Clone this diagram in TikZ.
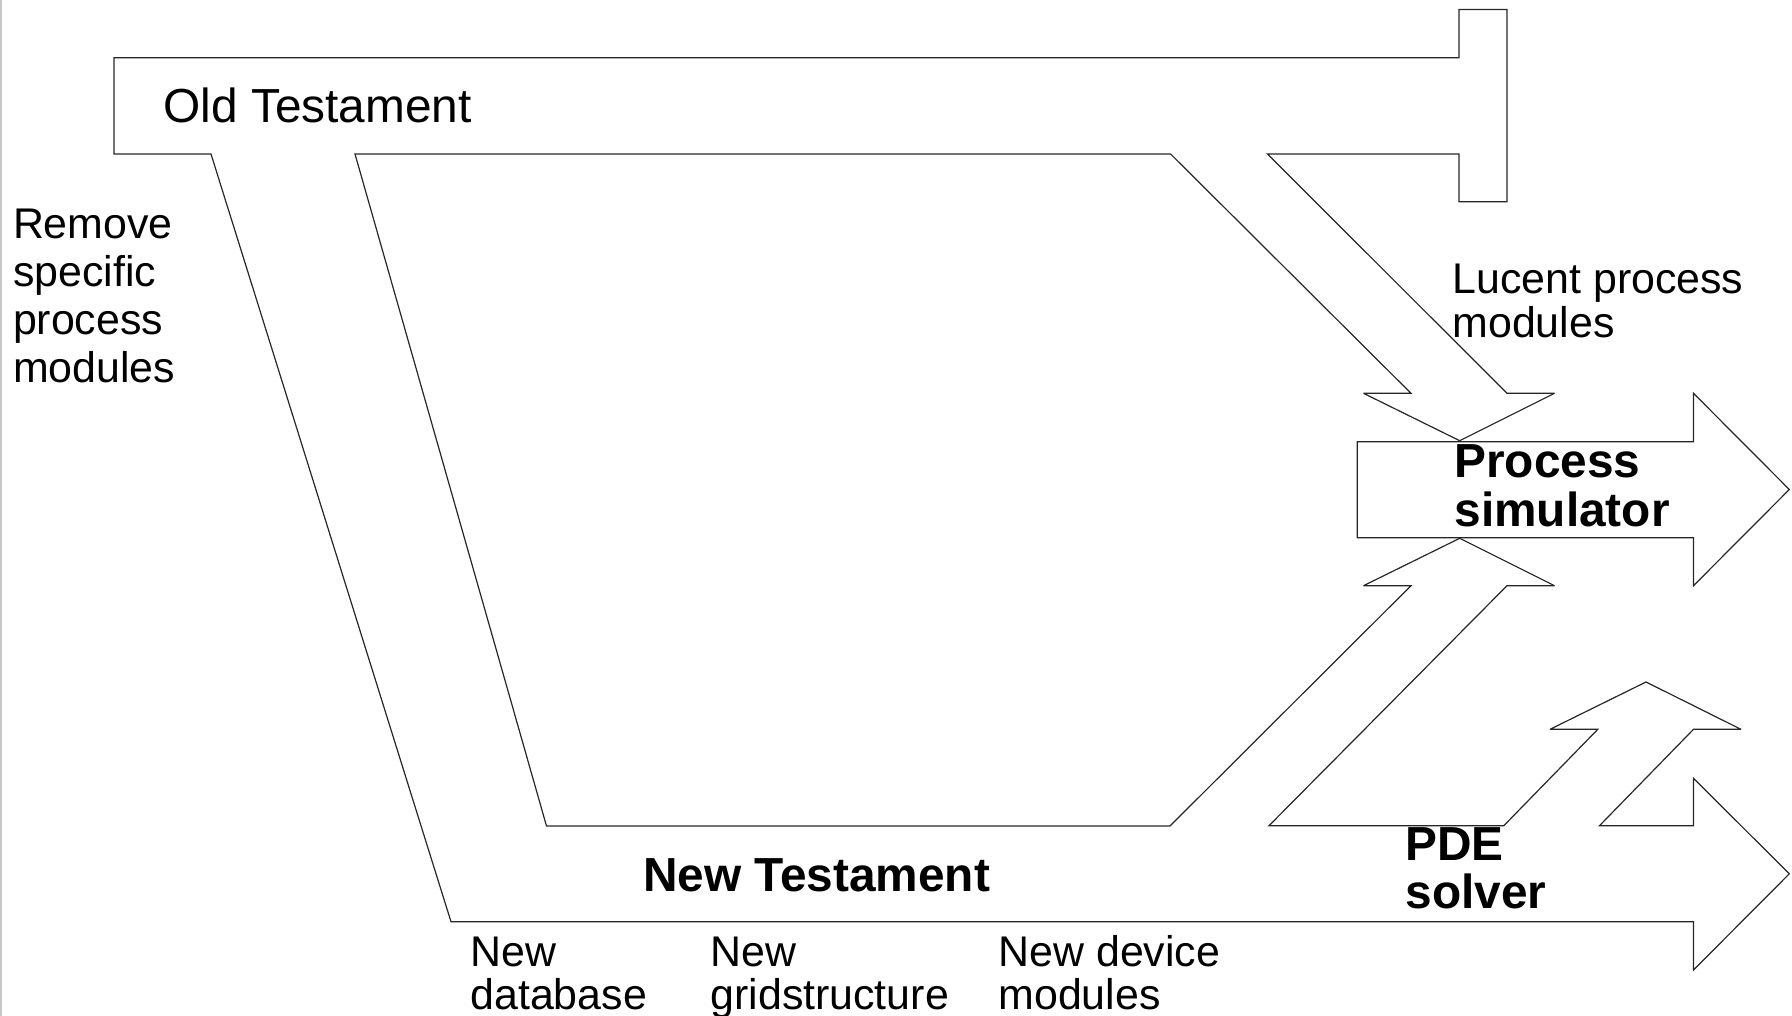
\documentclass[tikz,border=0pt]{standalone}
\usepackage{fontspec}
\setmainfont{Liberation Sans}
\newcommand{\mlines}[1]{\begin{tabular}[t]{@{}l@{}}#1\end{tabular}}
\tikzset{
  outline/.style={draw=black!85, line width=1.2pt, line join=miter, miter limit=4},
  lbl/.style={inner sep=0pt, outer sep=0pt, anchor=base west, font=\fontsize{42.9}{41.5}\selectfont},
  lblwide/.style={lbl, font=\fontsize{42.9}{47.7}\selectfont},
  lblbig/.style={lbl, font=\fontsize{47.8}{47}\selectfont},
  lblbold/.style={lbl, font=\fontsize{47.8}{47}\selectfont\bfseries}
}
\begin{document}
\begin{tikzpicture}[x=1pt,y=-1pt]
\useasboundingbox (0,0) rectangle (1792,1016);
% slide border
\draw[black!22, line width=2pt] (1,0) -- (1,1016);
% Old Testament / New Testament outline
\draw[outline] (114,57.7) -- (1459,57.7) -- (1459,9.5) -- (1507,9.5) -- (1507,201.7)
  -- (1459,201.7) -- (1459,154) -- (1267.5,154) -- (1507,393.3) -- (1554.5,393.3)
  -- (1459.7,440.7) -- (1363.5,393.3) -- (1411,393.3) -- (1170.6,154) -- (355,154)
  -- (546.5,826) -- (1170,826) -- (1411,585.7) -- (1363.5,585.7) -- (1459.7,538.3)
  -- (1554.5,585.7) -- (1507,585.7) -- (1269,825.7) -- (1503.8,825.7) -- (1597.8,729.3)
  -- (1550,729.3) -- (1646,682) -- (1741,729.3) -- (1693.5,729.3) -- (1599.5,825.7)
  -- (1693.5,825.7) -- (1693.5,778.3) -- (1789.3,873.8) -- (1693.5,970) -- (1693.5,921.7)
  -- (451,921.7) -- (211,154) -- (114,154) -- cycle;
% Process simulator arrow
\draw[outline] (1357.3,441.7) -- (1693.5,441.7) -- (1693.5,393.3) -- (1789.3,489.5)
  -- (1693.5,585.7) -- (1693.5,537.7) -- (1357.3,537.7) -- cycle;
% texts
\node[lblbig] (old) at (163.5,123) {Old Testament};
\node[lblwide] (remove) at (13,239) {\mlines{Remove\\specific\\process\\modules}};
\node[lbl] (lucent) at (1452.5,294) {\mlines{Lucent process\\modules}};
\node[lblbold] (procsim) at (1454.5,477.5) {\mlines{Process\\simulator}};
\node[lblbold] (pde) at (1405.5,860) {\mlines{PDE\\solver}};
\node[lblbold] (newt) at (643,891) {New Testament};
\node[lbl] (newdb) at (470.5,966) {\mlines{New\\database}};
\node[lbl] (newgrid) at (710.5,966) {\mlines{New\\gridstructure}};
\node[lbl] (newdev) at (998.5,966) {\mlines{New device\\modules}};
\end{tikzpicture}
\end{document}
